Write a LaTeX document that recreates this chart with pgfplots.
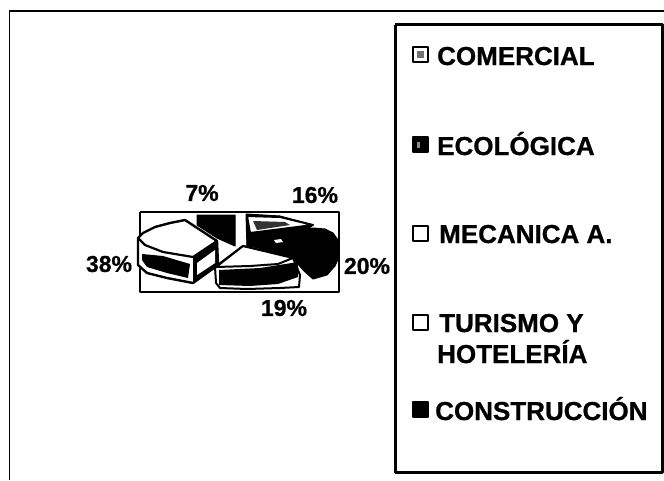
\documentclass[border=0pt]{standalone}
\usepackage{pgfplots}
\pgfplotsset{compat=1.18}
\usepackage{fontspec}
\setmainfont{Liberation Sans}[BoldFeatures={FakeBold=0.8}]
\newcommand{\legfont}{\fontsize{26}{30}\selectfont\bfseries}
\newcommand{\pctfont}{\fontsize{23}{26}\selectfont\bfseries}
\begin{document}
\begin{tikzpicture}
\begin{axis}[
  scale only axis, width=664pt, height=480pt,
  xmin=0, xmax=664, ymin=0, ymax=480, y dir=reverse,
  hide axis, clip=true,
  every axis plot/.append style={line join=round},
]
% page background
\addplot[draw=none, fill=white] coordinates {(0,0)(664,0)(664,480)(0,480)} -- cycle;
% frames
\addplot[black, line width=1.8pt] coordinates {(9.5,480)(9.5,11)(664,11)};
\addplot[black, line width=3pt] coordinates {(395,24.5)(662.5,24.5)(662.5,472.5)(395,472.5)(395,24.5)};
% plot area
\addplot[black, line width=1.4pt] coordinates {(140,212)(339,212)(339,292)(140,292)(140,212)};
% 7% slice
\addplot[fill=black, draw=black, line width=1pt] coordinates {(197,215)(235,215)(235,246)(217,238)(197,225)} -- cycle;
% 20% slice
\addplot[fill=black, draw=black, line width=1pt] coordinates {(247,233)(285,232)(313,228)(325,229)(333,233)(338,240)(339,257)(335,266)(327,275)(313,279)(303,270)(293,258)(247,245)} -- cycle;
% 16% slice
\addplot[fill=black, draw=black, line width=1pt] coordinates {(246,214)(280,216)(313,225)(300,235)(260,245)(247,247)} -- cycle;
\addplot[fill=white, draw=black, line width=2pt] coordinates {(247,216)(280,217)(313,225)(250,233)} -- cycle;
\addplot[fill=black!80, draw=none] coordinates {(253,221)(285,222)(290,225)(257,230)} -- cycle;
\addplot[fill=white, draw=none] coordinates {(274,240)(281,239)(283,242)(276,243)} -- cycle;
% 19% slice
\addplot[fill=white, draw=black, line width=2pt] coordinates {(243,246)(293,258)(300,275)(299,287)(280,288)(247,289)(220,288)(216,283)(215,267)} -- cycle;
\addplot[fill=black, draw=none] coordinates {(219,270)(260,268)(298,262)(298,277)(278,284)(250,286)(219,285)} -- cycle;
\addplot[fill=white, draw=none] coordinates {(243,247)(293,258)(278,264)(250,266)(216,267)} -- cycle;
\addplot[black, line width=2pt] coordinates {(243,246)(293,258)(278,264)(250,266)(216,267)(243,246)};
% 38% slice
\addplot[fill=white, draw=black, line width=2.4pt] coordinates {(138,238)(143,233)(155,227)(170,223)(185,220)(217,241)(218,265)(193,283)(167,278)(147,273)(138,265)} -- cycle;
\addplot[fill=black, draw=none] coordinates {(193,257)(217,241)(218,265)(193,283)} -- cycle;
\addplot[fill=white, draw=none] coordinates {(197,263)(215,250)(215,263)(197,275)} -- cycle;
\addplot[black, line width=2.2pt] coordinates {(138,238)(145,245)(163,252)(193,257)(217,241)};
\addplot[fill=black, draw=none] coordinates {(142,254)(163,256)(190,264)(188,278)(167,273)(147,267)(142,260)} -- cycle;
% legend swatches
\addplot[fill=white, draw=black, line width=2.2pt] coordinates {(413,47)(428,47)(428,62)(413,62)} -- cycle;
\addplot[fill=black!55, draw=none] coordinates {(417,51)(424,51)(424,58)(417,58)} -- cycle;
\addplot[fill=black, draw=black, line width=2.2pt] coordinates {(413,137)(428,137)(428,152)(413,152)} -- cycle;
\addplot[fill=black!45, draw=none] coordinates {(417,142)(420,142)(420,148)(417,148)} -- cycle;
\addplot[fill=white, draw=black, line width=2.2pt] coordinates {(413,226)(428,226)(428,241)(413,241)} -- cycle;
\addplot[fill=white, draw=black, line width=2.2pt] coordinates {(413,315)(428,315)(428,330)(413,330)} -- cycle;
\addplot[fill=black, draw=black, line width=2.2pt] coordinates {(413,402)(428,402)(428,417)(413,417)} -- cycle;
% legend text
\node[anchor=base west, inner sep=0pt] at (axis cs:437,65) {\legfont COMERCIAL};
\node[anchor=base west, inner sep=0pt] at (axis cs:437,155) {\legfont ECOLÓGICA};
\node[anchor=base west, inner sep=0pt] at (axis cs:439,243) {\legfont MECANICA A.};
\node[anchor=base west, inner sep=0pt] at (axis cs:439,332) {\legfont TURISMO Y};
\node[anchor=base west, inner sep=0pt] at (axis cs:437,363) {\legfont HOTELERÍA};
\node[anchor=base west, inner sep=0pt] at (axis cs:435,420) {\legfont CONSTRUCCIÓN};
% percentages
\node[inner sep=0pt] at (axis cs:202,193) {\pctfont 7\%};
\node[inner sep=0pt] at (axis cs:315,195) {\pctfont 16\%};
\node[inner sep=0pt] at (axis cs:109,264) {\pctfont 38\%};
\node[inner sep=0pt] at (axis cs:367,266) {\pctfont 20\%};
\node[inner sep=0pt] at (axis cs:284,308) {\pctfont 19\%};
\end{axis}
\end{tikzpicture}
\end{document}
